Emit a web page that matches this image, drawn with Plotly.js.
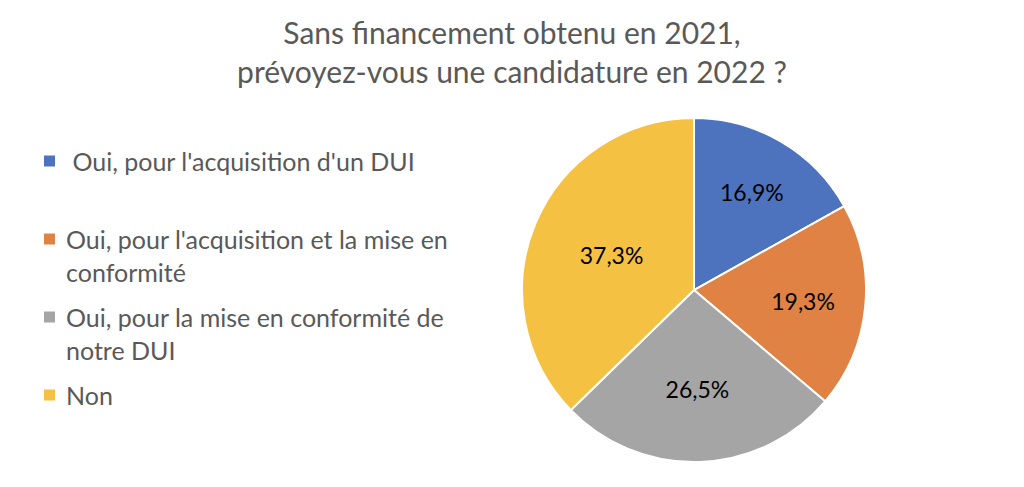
<!DOCTYPE html>
<html>
<head>
<meta charset="utf-8">
<script src="https://cdn.plot.ly/plotly-3.0.1.min.js"></script>
<style>
  body { margin: 0; background: #fff; }
  #myDiv { width: 1024px; height: 487px; }
</style>
</head>
<body>
<div id="myDiv"></div>
<script>
// answers (legend text, wrapped as in the original)
var labels = [
  " Oui, pour l'acquisition d'un DUI",
  "Oui, pour l'acquisition et la mise en<br>conformité",
  "Oui, pour la mise en conformité de<br>notre DUI",
  "Non"
];
var shares = [16.9, 19.3, 26.5, 37.3];
var colors = ["#4E73BE", "#E08243", "#A5A5A5", "#F4C142"];

var H = 487;
var W = 1024;

var data = [
  {
    type: "pie",
    labels: labels,
    values: shares,
    sort: false,
    direction: "clockwise",
    rotation: 0,
    marker: { colors: colors, line: { color: "white", width: 2 } },
    texttemplate: "%{percent:.1%}",
    textposition: "inside",
    insidetextorientation: "horizontal",
    textfont: { family: "Lato, sans-serif", size: 23, color: "black" },
    domain: { x: [0.5098, 0.8457], y: [0.0513, 0.7577] },
    hoverinfo: "label+percent",
  },
];

// legend drawn by hand: Excel spaces the entries evenly, plotly can't
var annotations = [];
var shapes = [];
labels.forEach(function (lab, i) {
  var yc = 161 + i * 78; // px from top, first text line centre
  annotations.push({
    xref: "paper",
    yref: "paper",
    x: 64 / W,
    y: 1 - (yc - 17) / H,
    xanchor: "left",
    yanchor: "top",
    align: "left",
    showarrow: false,
    text: lab,
    font: { family: "Lato, sans-serif", size: 25, color: "#595959" },
  });
  shapes.push({
    type: "rect",
    xref: "paper",
    yref: "paper",
    x0: 44 / W,
    x1: 55 / W,
    y0: 1 - (yc - 5.5) / H,
    y1: 1 - (yc + 5.5) / H,
    fillcolor: colors[i],
    line: { width: 0 },
  });
});

var layout = {
  width: W,
  height: H,
  separators: ", ",
  paper_bgcolor: "white",
  margin: { l: 0, r: 0, t: 0, b: 0 },
  font: { family: "Lato, sans-serif", color: "#595959" },
  title: {
    text: "Sans financement obtenu en 2021,<br>prévoyez-vous une candidature en 2022 ?",
    font: { family: "Lato, sans-serif", size: 30, color: "#595959" },
    x: 0.5,
    xanchor: "center",
    y: 0.91,
    yanchor: "top",
  },
  showlegend: false,
  annotations: annotations,
  shapes: shapes,
};

Plotly.newPlot("myDiv", data, layout, { displayModeBar: false });
</script>
</body>
</html>
